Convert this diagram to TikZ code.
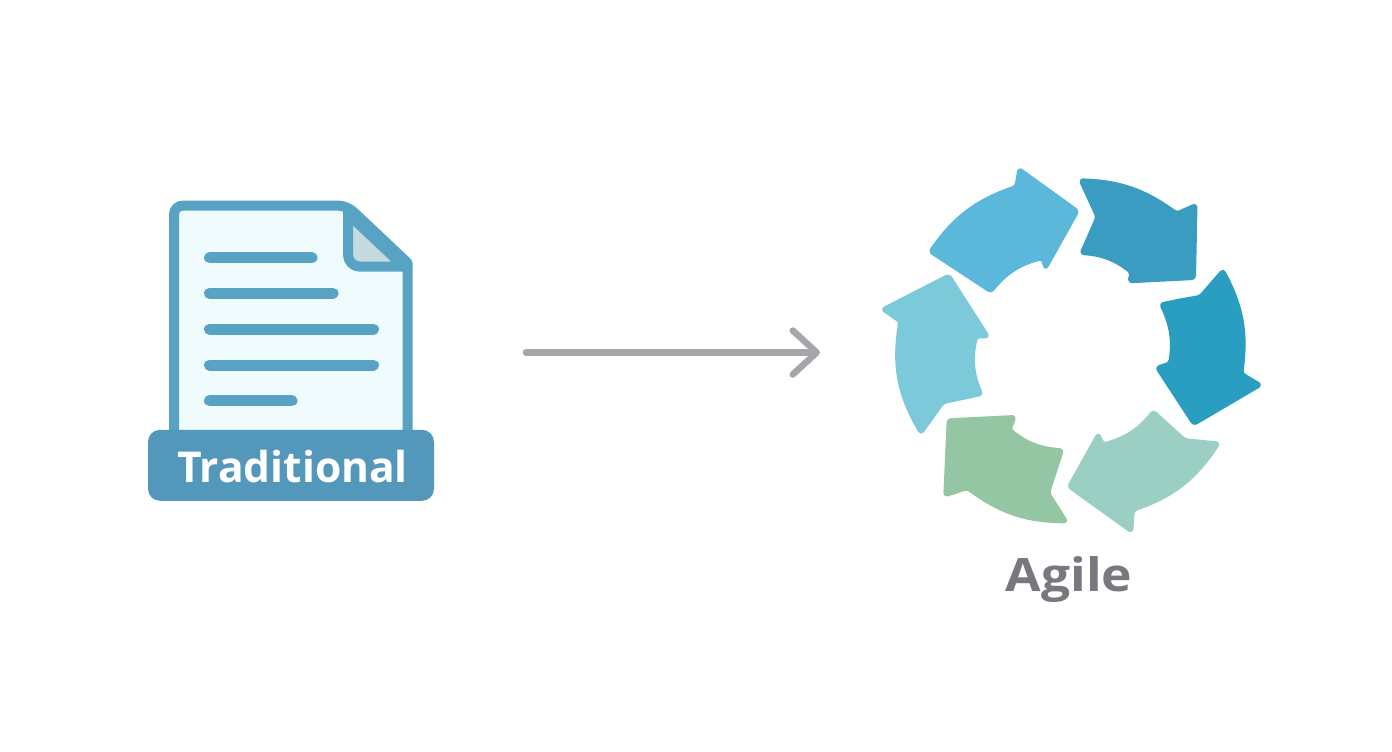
\documentclass[tikz,border=0pt]{standalone}
\usepackage{fontspec}
\setmainfont{Open Sans}
\usetikzlibrary{arrows.meta}
\definecolor{docblue}{HTML}{58A2C4}
\definecolor{bannerblue}{HTML}{5398BB}
\definecolor{pagetint}{HTML}{F0FBFD}
\definecolor{foldgrey}{HTML}{C5DBDF}
\definecolor{flowgrey}{HTML}{A4A6A9}
\definecolor{agilegrey}{HTML}{77797F}
\definecolor{ringa}{HTML}{5CB8DB}
\definecolor{ringb}{HTML}{3A9CC0}
\definecolor{ringc}{HTML}{2A9EC1}
\definecolor{ringd}{HTML}{9BCFC3}
\definecolor{ringe}{HTML}{95C6A3}
\definecolor{ringf}{HTML}{7CCAD9}
\tikzset{
  docline/.style={draw=docblue,line width=11pt,line cap=round},
  ringarrow/.style={line width=3pt,line join=round,rounded corners=3pt},
  biglabel/.style={font=\fontsize{42.5}{50}\selectfont\bfseries,inner sep=0pt}
}
\begin{document}
\begin{tikzpicture}[x=1pt,y=-1pt]
    \useasboundingbox[fill=white] (0,0) rectangle (1392,752);
    % document
    \fill[pagetint] (174,440) -- (174,205.5) -- (346.7,205.5) -- (407.7,263) -- (407.7,440) -- cycle;
    \fill[foldgrey] (348,206) -- (407,263) -- (348,266) -- cycle;
    \draw[docblue,line width=14pt] (350,213) -- (403,263);
    \draw[draw=docblue,line width=10pt,rounded corners=9pt]
        (174,440) -- (174,205.5) -- (346.7,205.5) -- (377,234);
    \draw[draw=docblue,line width=10pt,line join=round]
        (377,234) -- (407.7,263) -- (407.7,440);
    \draw[draw=docblue,line width=10pt,line join=round,rounded corners=12pt]
        (348,207) -- (348,266.7) -- (408,266.7);
    \foreach \lineY/\lineEnd in {257.7/312,293.3/333,329.3/373.5,365/373.5,400.7/292}
        \draw[docline] (209.5,\lineY) -- (\lineEnd,\lineY);
    \node[fill=bannerblue,rounded corners=12pt,minimum width=286pt,minimum height=71pt,
        inner sep=0pt] (banner) at (291,465.3) {};
    \node[biglabel,text=white,anchor=base] (traditional) at (292.5,482) {Traditional};
    % flow
    \coordinate (flowstart) at (526,352.5);
    \coordinate (flowend) at (820,352.5);
    \draw[flowgrey,line width=6.5pt,line cap=round,
        -{Straight Barb[length=24pt,width=44pt,round]}] (flowstart) -- (flowend);
    % ring
    \filldraw[ringa,ringarrow] (929.8,251.7) to[bend left=18] (1016,186.5) -- (1019,168.5)
        -- (1078,211) -- (1045.5,269) -- (1042,258.5) to[bend right=18] (991,292) -- cycle;
    \filldraw[ringb,ringarrow] (1080,179.8) to[bend left=17] (1176.7,213) -- (1196,204.5)
        -- (1194.5,278.5) -- (1129,281.8) -- (1131,272.5) to[bend right=17] (1081,253.5) -- (1097,217) -- cycle;
    \filldraw[ringc,ringarrow] (1180,300) -- (1200,296.5) -- (1223,270) to[bend left=18] (1241.8,373.5)
        -- (1261,385) -- (1193.8,424.5) -- (1156.5,367.5) -- (1169.8,363) to[bend right=17] (1160.5,304) -- cycle;
    \filldraw[ringd,ringarrow] (1169,425.4) -- (1185,439.8) -- (1219,443) to[bend left=19] (1133.3,510.2)
        -- (1131.7,532) -- (1068.5,486.7) -- (1098.3,433.5) -- (1103.3,444) to[bend right=18] (1153.3,411) -- cycle;
    \filldraw[ringe,ringarrow] (1055.5,471.4) -- (1048.5,493) -- (1066.8,521.8) to[bend left=18] (967.3,488.5)
        -- (944.8,495.8) -- (948.2,419.8) -- (1015,416.5) -- (1010.2,429.8) to[bend right=17] (1062.5,449.8) -- cycle;
    \filldraw[ringf,ringarrow] (962.5,398.5) -- (943.3,402.5) -- (921,433.5) to[bend left=20] (899.8,321.5)
        -- (882,309.3) -- (949,275) -- (988.5,336.8) -- (976.5,336.8) to[bend right=18] (981.8,394.5) -- cycle;
    \node[font=\fontsize{46}{50}\selectfont\bfseries,inner sep=0pt,xscale=1.12,text=agilegrey,anchor=base] (agile) at (1069,591) {Agile};
\end{tikzpicture}
\end{document}
